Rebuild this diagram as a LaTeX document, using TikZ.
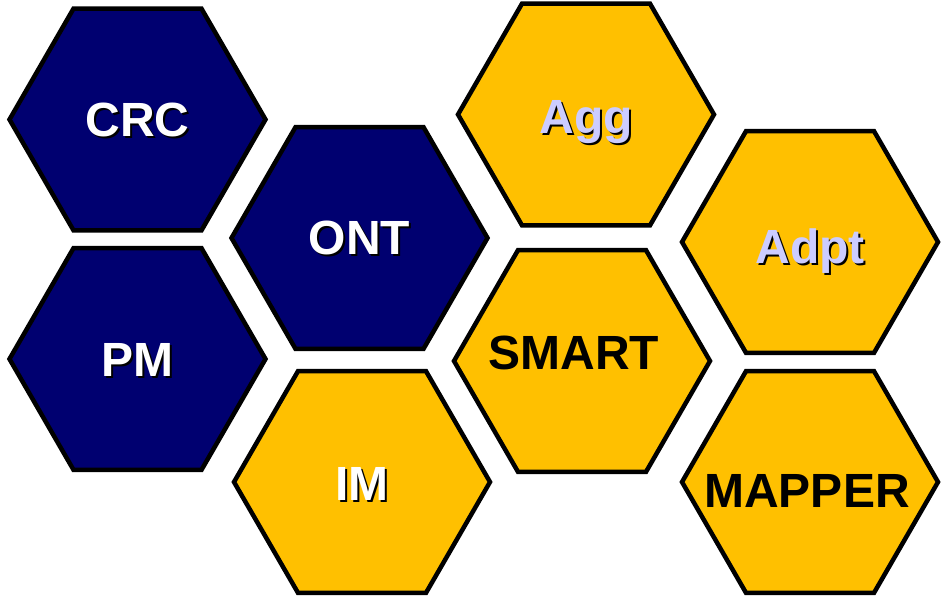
\documentclass[tikz,border=0pt]{standalone}
\usepackage{fontspec}
\setmainfont{Liberation Sans}
\usetikzlibrary{shapes.geometric}

\definecolor{navyblue}{RGB}{0,0,112}
\definecolor{honey}{RGB}{255,192,0}
\definecolor{lavender}{RGB}{204,204,255}

\newcommand{\shadowed}[2]{\makebox[0pt][l]{\hspace{2pt}\raisebox{-2pt}{\color{black}#2}}\textcolor{#1}{#2}}

\begin{document}
\begin{tikzpicture}[x=1pt,y=-1pt]
   \tikzstyle{hex}=[draw=black, line width=4.5pt, regular polygon, regular polygon sides=6, minimum size=256pt, inner sep=0pt]
   \tikzstyle{every label}=[font=\bfseries\fontsize{48}{48}\selectfont, text height=34pt, text depth=0pt, inner sep=0pt]
   \useasboundingbox (0,0) rectangle (941,597);

\node[hex, fill=navyblue, label={center:\shadowed{white}{CRC}}] (crc) at (137.5,119.5) {};
\node[hex, fill=navyblue, label={center:\shadowed{white}{PM}}] (pm) at (137.5,359) {};
\node[hex, fill=navyblue, label={[yshift=1pt]center:\shadowed{white}{ONT}}] (ont) at (359.5,238) {};
\node[hex, fill=honey, label={[yshift=-1pt]center:\shadowed{white}{IM}}] (im) at (362,482) {};

\node[hex, fill=honey, label={[yshift=-1.5pt]center:\shadowed{lavender}{Agg}}] (agg) at (586,114.5) {};
\node[hex, fill=honey, label={[xshift=-8pt, yshift=9pt]center:SMART}] (smart) at (582,361) {};

\node[hex, fill=honey, label={[yshift=-4pt]center:\shadowed{lavender}{Adpt}}] (adpt) at (810,242) {};
\node[hex, fill=honey, label={[xshift=-3pt, yshift=-8pt]center:MAPPER}] (mapper) at (810,482) {};

\end{tikzpicture}
\end{document}
